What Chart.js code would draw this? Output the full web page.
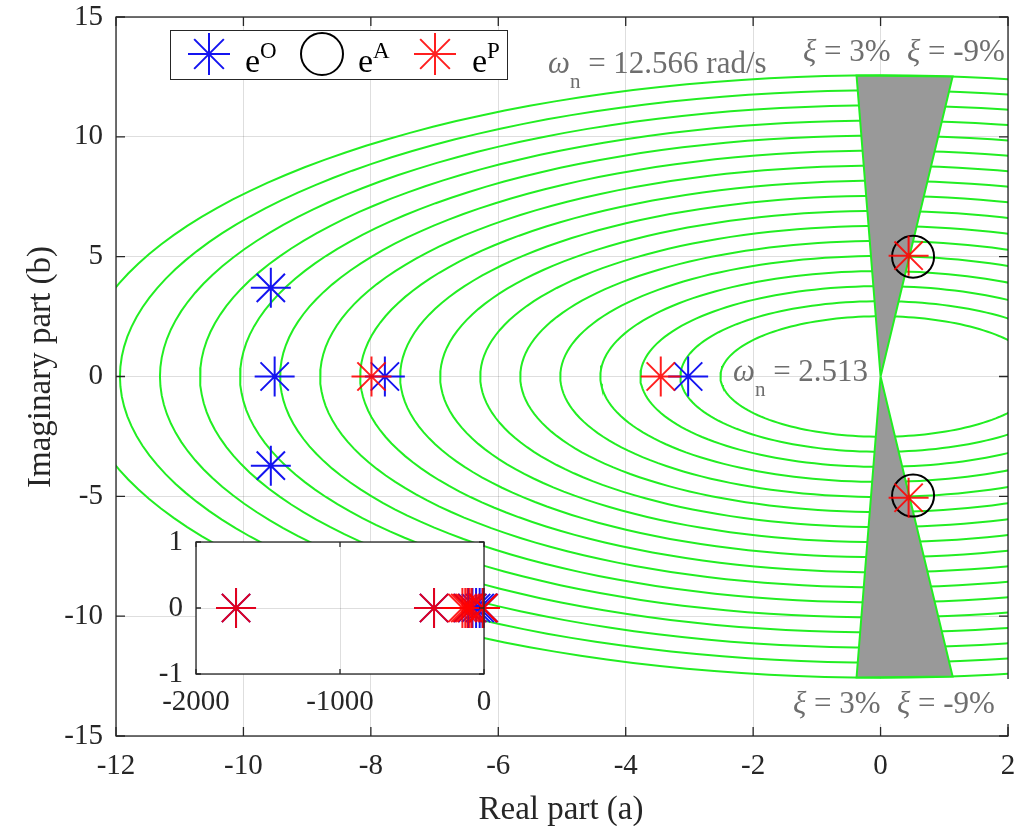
<!DOCTYPE html>
<html>
<head>
<meta charset="utf-8">
<script src="https://cdn.jsdelivr.net/npm/chart.js@4.4.0/dist/chart.umd.min.js"></script>
<style>
body { margin: 0; background: #fff; }
#wrap { position: relative; width: 1031px; height: 826px; }
#main { position: absolute; left: 0; top: 0; }
#inset { position: absolute; left: 140px; top: 525px; }
</style>
</head>
<body>
<div id="wrap">
  <canvas id="main" width="1031" height="826"></canvas>
  <canvas id="inset" width="360" height="200"></canvas>
</div>
<script>
// natural frequency contours (rad/s) and damping limits of the grey wedge
const wnList = [2.513, 3.142, 3.770, 4.398, 5.027, 5.655, 6.283, 6.912, 7.540,
                8.168, 8.796, 9.425, 10.053, 10.681, 11.310, 11.938, 12.566];
const zetaLimits = [0.03, -0.09];

// eigenvalues, main plot
const eigO_re = [-9.57, -9.51, -9.57, -7.78, -3.02];
const eigO_im = [3.70, 0, -3.72, 0, 0];
const eigA_re = [0.51, 0.51];
const eigA_im = [5.0, -4.97];
const eigP_re = [-7.99, -3.45, 0.44, 0.44];
const eigP_im = [0, 0, 5.04, -5.06];

// eigenvalues, inset (real axis only)
const insetO_re = [-1722, -347, -110, -80, -55, -30, -9.5, -7.78, -3.02];
const insetP_re = [-1722, -347, -150, -130, -115, -100, -85, -7.99, -3.45];

const xTicks = [-12, -10, -8, -6, -4, -2, 0, 2];
const yTicks = [-15, -10, -5, 0, 5, 10, 15];
const insetXTicks = [-2000, -1000, 0];
const insetYTicks = [-1, 0, 1];

const SERIF = '"Liberation Serif", "Times New Roman", serif';
const GREEN = '#22ee22';
const BLUE = 'rgb(20,20,240)';
const RED = 'rgba(255,0,0,0.88)';
const INK = '#262626';
const GREY_TXT = '#6e6e6e';

Chart.defaults.font.family = SERIF;
Chart.defaults.color = INK;

const pts = (re, im) => re.map((v, i) => ({ x: v, y: im[i] }));

function circlePts(wn) {
  const out = [];
  for (let k = 0; k <= 360; k += 2) {
    const t = k * Math.PI / 180;
    out.push({ x: wn * Math.cos(t), y: wn * Math.sin(t) });
  }
  return out;
}

function wedge(sign) {
  const W = wnList[wnList.length - 1];
  const out = [{ x: 0, y: 0 }];
  zetaLimits.forEach(z => out.push({ x: -z * W, y: sign * W * Math.sqrt(1 - z * z) }));
  out.push({ x: 0, y: 0 });
  return out;
}

function textRuns(ctx, x, y, parts, color) {
  ctx.fillStyle = color;
  ctx.textAlign = 'left';
  ctx.textBaseline = 'alphabetic';
  parts.forEach(p => {
    ctx.font = (p.it ? 'italic ' : '') + p.sz + 'px ' + SERIF;
    ctx.fillText(p.t, x, y + (p.dy || 0));
    x += ctx.measureText(p.t).width;
  });
}

function drawStar(ctx, x, y, r, color) {
  ctx.save();
  ctx.strokeStyle = color; ctx.lineWidth = 2;
  ctx.beginPath();
  ctx.moveTo(x - r, y); ctx.lineTo(x + r, y);
  ctx.moveTo(x, y - r); ctx.lineTo(x, y + r);
  const d = r * Math.SQRT1_2;
  ctx.moveTo(x - d, y - d); ctx.lineTo(x + d, y + d);
  ctx.moveTo(x - d, y + d); ctx.lineTo(x + d, y - d);
  ctx.stroke();
  ctx.restore();
}

function frameAndTicks(chart, len) {
  const { ctx, chartArea: a, scales: { x, y } } = chart;
  ctx.save();
  ctx.strokeStyle = INK; ctx.lineWidth = 1.3;
  ctx.strokeRect(a.left, a.top, a.right - a.left, a.bottom - a.top);
  ctx.beginPath();
  x.ticks.forEach(t => {
    const px = x.getPixelForValue(t.value);
    ctx.moveTo(px, a.bottom); ctx.lineTo(px, a.bottom - len);
    ctx.moveTo(px, a.top); ctx.lineTo(px, a.top + len);
  });
  y.ticks.forEach(t => {
    const py = y.getPixelForValue(t.value);
    ctx.moveTo(a.left, py); ctx.lineTo(a.left + len, py);
    ctx.moveTo(a.right, py); ctx.lineTo(a.right - len, py);
  });
  ctx.stroke();
  ctx.restore();
}

// fixed axis boxes, no extra padding for overflowing labels
const fitX = h => s => { s.height = h; s.paddingLeft = 0; s.paddingRight = 0; };
const fitY = w => s => { s.width = w; s.paddingTop = 0; s.paddingBottom = 0; };
const plainLabel = v => String(v);

const mainDecor = {
  id: 'mainDecor',
  afterDatasetsDraw(chart) {
    const ctx = chart.ctx;
    frameAndTicks(chart, 9);

    ctx.save();
    // white boxes behind the lower damping labels
    ctx.fillStyle = '#fff';
    ctx.fillRect(786, 679, 224, 45);

    const big = 31, sub = 21;
    textRuns(ctx, 548, 73, [{ t: 'ω', sz: big, it: true }, { t: 'n', sz: sub, dy: 15 }, { t: ' = 12.566 rad/s', sz: big }], GREY_TXT);
    textRuns(ctx, 733, 381, [{ t: 'ω', sz: big, it: true }, { t: 'n', sz: sub, dy: 15 }, { t: ' = 2.513', sz: big }], GREY_TXT);
    textRuns(ctx, 803, 61, [{ t: 'ξ', sz: big, it: true }, { t: ' = 3%', sz: big }], GREY_TXT);
    textRuns(ctx, 907, 61, [{ t: 'ξ', sz: big, it: true }, { t: ' = -9%', sz: big }], GREY_TXT);
    textRuns(ctx, 793, 713, [{ t: 'ξ', sz: big, it: true }, { t: ' = 3%', sz: big }], GREY_TXT);
    textRuns(ctx, 897, 713, [{ t: 'ξ', sz: big, it: true }, { t: ' = -9%', sz: big }], GREY_TXT);

    // axis titles
    ctx.fillStyle = INK;
    ctx.font = '33px ' + SERIF;
    ctx.textAlign = 'center';
    ctx.textBaseline = 'alphabetic';
    ctx.fillText('Real part (a)', 561, 819);
    ctx.save();
    ctx.translate(50, 367);
    ctx.rotate(-Math.PI / 2);
    ctx.fillText('Imaginary part (b)', 0, 0);
    ctx.restore();

    // legend
    ctx.fillStyle = '#fff';
    ctx.fillRect(170, 30, 337, 49);
    ctx.strokeStyle = INK; ctx.lineWidth = 1;
    ctx.strokeRect(170.5, 30.5, 337, 49);
    drawStar(ctx, 209, 54, 21, BLUE);
    ctx.beginPath(); ctx.strokeStyle = '#000'; ctx.lineWidth = 2;
    ctx.arc(322, 54, 21, 0, Math.PI * 2); ctx.stroke();
    drawStar(ctx, 435, 54, 21, RED);
    const leg = [['O', 245], ['A', 358], ['P', 472]];
    leg.forEach(([s, lx]) => textRuns(ctx, lx, 72, [{ t: 'e', sz: 34 }, { t: s, sz: 23, dy: -14 }], '#000'));
    ctx.restore();
  }
};

const insetDecor = {
  id: 'insetDecor',
  beforeDraw(chart) {
    const { ctx, chartArea: a } = chart;
    ctx.save();
    ctx.fillStyle = '#fff';
    ctx.fillRect(a.left, a.top, a.right - a.left, a.bottom - a.top);
    ctx.restore();
  },
  afterDatasetsDraw(chart) {
    frameAndTicks(chart, 5);
  }
};

const gridColor = 'rgba(0,0,0,0.13)';

const circleSets = wnList.map(wn => ({
  type: 'line',
  data: circlePts(wn),
  borderColor: GREEN,
  borderWidth: 2,
  pointRadius: 0,
  fill: false,
  order: 10
}));

const wedgeSets = [1, -1].map(s => ({
  type: 'line',
  data: wedge(s),
  borderColor: GREEN,
  borderWidth: 2,
  backgroundColor: '#999999',
  pointRadius: 0,
  fill: 'shape',
  order: 8
}));

new Chart(document.getElementById('main'), {
  type: 'scatter',
  data: {
    datasets: [
      ...circleSets,
      ...wedgeSets,
      { label: 'eO', data: pts(eigO_re, eigO_im), pointStyle: 'star', pointRadius: 20, borderWidth: 2,
        borderColor: BLUE, backgroundColor: BLUE, order: 3, clip: false },
      { label: 'eA', data: pts(eigA_re, eigA_im), pointStyle: 'circle', pointRadius: 21, borderWidth: 2,
        borderColor: '#000', backgroundColor: 'rgba(0,0,0,0)', order: 2, clip: false },
      { label: 'eP', data: pts(eigP_re, eigP_im), pointStyle: 'star', pointRadius: 20, borderWidth: 2,
        borderColor: RED, backgroundColor: RED, order: 1, clip: false }
    ]
  },
  options: {
    responsive: false,
    animation: false,
    devicePixelRatio: 1,
    layout: { autoPadding: false, padding: { top: 17, right: 23, left: 0, bottom: 0 } },
    plugins: { legend: { display: false }, tooltip: { enabled: false } },
    elements: { point: { hoverRadius: 20 } },
    scales: {
      x: {
        type: 'linear', min: -12, max: 2,
        afterBuildTicks: s => { s.ticks = xTicks.map(v => ({ value: v })); },
        afterFit: fitX(90),
        ticks: { font: { size: 29 }, color: INK, padding: 13, maxRotation: 0, callback: plainLabel },
        grid: { color: gridColor, drawTicks: false },
        border: { display: false }
      },
      y: {
        type: 'linear', min: -15, max: 15,
        afterBuildTicks: s => { s.ticks = yTicks.map(v => ({ value: v })); },
        afterFit: fitY(116),
        ticks: { font: { size: 29 }, color: INK, padding: 13, callback: plainLabel },
        grid: { color: gridColor, drawTicks: false },
        border: { display: false }
      }
    }
  },
  plugins: [mainDecor]
});

new Chart(document.getElementById('inset'), {
  type: 'scatter',
  data: {
    datasets: [
      { label: 'eO', data: insetO_re.map(v => ({ x: v, y: 0 })), pointStyle: 'star', pointRadius: 20, borderWidth: 2,
        borderColor: BLUE, backgroundColor: BLUE, order: 2, clip: false },
      { label: 'eP', data: insetP_re.map(v => ({ x: v, y: 0 })), pointStyle: 'star', pointRadius: 20, borderWidth: 2,
        borderColor: RED, backgroundColor: RED, order: 1, clip: false }
    ]
  },
  options: {
    responsive: false,
    animation: false,
    devicePixelRatio: 1,
    layout: { autoPadding: false, padding: { top: 17, right: 16, left: 0, bottom: 0 } },
    plugins: { legend: { display: false }, tooltip: { enabled: false } },
    scales: {
      x: {
        type: 'linear', min: -2000, max: 0,
        afterBuildTicks: s => { s.ticks = insetXTicks.map(v => ({ value: v })); },
        afterFit: fitX(51),
        ticks: { font: { size: 29 }, color: INK, padding: 11, maxRotation: 0, callback: plainLabel },
        grid: { color: gridColor, drawTicks: false },
        border: { display: false }
      },
      y: {
        type: 'linear', min: -1, max: 1,
        afterBuildTicks: s => { s.ticks = insetYTicks.map(v => ({ value: v })); },
        afterFit: fitY(56),
        ticks: { font: { size: 29 }, color: INK, padding: 13, callback: plainLabel },
        grid: { color: gridColor, drawTicks: false },
        border: { display: false }
      }
    }
  },
  plugins: [insetDecor]
});
</script>
</body>
</html>
